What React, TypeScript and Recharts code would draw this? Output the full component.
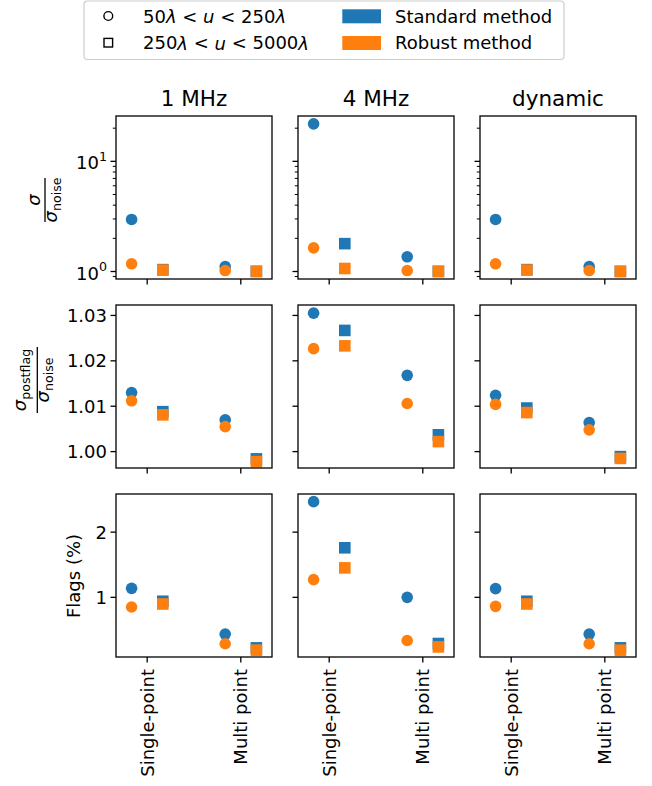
import React from "react";
import { ScatterChart, Scatter, XAxis, YAxis } from "recharts";

// =============================================================================
// Flagging comparison — 3x3 grid of small scatter panels.
// =============================================================================

const columns = ["1 MHz", "4 MHz", "dynamic"];
const categories = ["Single-point", "Multi point"];
const categoryIndex = [0, 1];

// values per column, [Single-point, Multi point]
// row 1: sigma / sigma_noise (log axis)
const ratioStdShort = [[2.97, 1.11], [21.9, 1.36], [2.97, 1.11]];
const ratioRobShort = [[1.175, 1.02], [1.64, 1.02], [1.175, 1.02]];
const ratioStdLong = [[1.04, 1.003], [1.79, 1.003], [1.04, 1.003]];
const ratioRobLong = [[1.03, 1.0], [1.065, 1.0], [1.03, 1.0]];

// row 2: sigma_postflag / sigma_noise
const postStdShort = [[1.013, 1.007], [1.0305, 1.0168], [1.0124, 1.0064]];
const postRobShort = [[1.0112, 1.0055], [1.0227, 1.0106], [1.0104, 1.0048]];
const postStdLong = [[1.0088, 0.9984], [1.0267, 1.0037], [1.0096, 0.9989]];
const postRobLong = [[1.0081, 0.9978], [1.0233, 1.0022], [1.0086, 0.9985]];

// row 3: flags (%)
const flagsStdShort = [[1.138, 0.437], [2.468, 1.0], [1.134, 0.437]];
const flagsRobShort = [[0.852, 0.288], [1.272, 0.338], [0.862, 0.288]];
const flagsStdLong = [[0.94, 0.225], [1.76, 0.292], [0.94, 0.225]];
const flagsRobLong = [[0.898, 0.19], [1.452, 0.24], [0.898, 0.19]];

const ratioTicks = [0.9, 1, 2, 3, 4, 5, 6, 7, 8, 9, 10, 20];
const ratioMajor = [1, 10];
const postTicks = [1.0, 1.01, 1.02, 1.03];
const flagsTicks = [1, 2];

const BLUE = "#1f77b4";
const ORANGE = "#ff7f0e";
const FONT = "DejaVu Sans";

const COL_X = [116, 298, 480];
const ROW_Y = [116, 305, 494];
const PW = 156;
const PH = 163;
const X_DOMAIN = [-1 / 3, 4 / 3];
const OFFSET = 1 / 6;
const MAJOR = 5.5;
const MINOR = 3.2;

type RowDef = {
  std: number[][];
  rob: number[][];
  stdL: number[][];
  robL: number[][];
  domain: number[];
  ticks: number[];
  major: number[];
  scale: "log" | "linear";
  fmt: (v: number) => React.ReactNode;
};

const rows: RowDef[] = [
  {
    std: ratioStdShort, rob: ratioRobShort, stdL: ratioStdLong, robL: ratioRobLong,
    domain: [0.855, 25.8], ticks: ratioTicks, major: ratioMajor, scale: "log",
    fmt: (v) => (
      <>
        10<tspan dy={-7} fontSize={12.6}>{Math.round(Math.log10(v))}</tspan>
      </>
    ),
  },
  {
    std: postStdShort, rob: postRobShort, stdL: postStdLong, robL: postRobLong,
    domain: [0.99639, 1.0323], ticks: postTicks, major: postTicks, scale: "linear",
    fmt: (v) => v.toFixed(2),
  },
  {
    std: flagsStdShort, rob: flagsRobShort, stdL: flagsStdLong, robL: flagsRobLong,
    domain: [0.085, 2.585], ticks: flagsTicks, major: flagsTicks, scale: "linear",
    fmt: (v) => String(v),
  },
];

const points = (vals: number[], off: number) =>
  categoryIndex.map((c, i) => ({ x: c + off, y: vals[i] }));

const dot = (color: string) => (p: any) => <circle cx={p.cx} cy={p.cy} r={5.8} fill={color} />;
const square = (color: string) => (p: any) => (
  <rect x={p.cx - 5.8} y={p.cy - 5.8} width={11.6} height={11.6} fill={color} />
);

function Panel({ row, col }: { row: number; col: number }) {
  const r = rows[row];
  const mL = col === 0 ? 90 : 12;
  const mB = row === 2 ? 140 : 12;
  const mT = 8;
  const mR = 8;

  const xTick = (p: any) => (
    <g>
      <line x1={p.x} x2={p.x} y1={p.y} y2={p.y + MAJOR} stroke="#000" strokeWidth={1.3} />
      {row === 2 && (
        <text
          x={p.x}
          y={p.y + 12}
          transform={`rotate(-90, ${p.x}, ${p.y + 12})`}
          textAnchor="end"
          dominantBaseline="central"
          fontFamily={FONT}
          fontSize={18}
          fill="#000"
        >
          {categories[p.payload.value]}
        </text>
      )}
    </g>
  );

  const yTick = (p: any) => {
    const v = p.payload.value;
    const isMajor = r.major.includes(v);
    const len = isMajor ? MAJOR : MINOR;
    return (
      <g>
        <line x1={p.x - len} x2={p.x} y1={p.y} y2={p.y} stroke="#000" strokeWidth={isMajor ? 1.3 : 1} />
        {col === 0 && isMajor && (
          <text
            x={p.x - 9}
            y={p.y + (r.scale === "log" ? 1.5 : 0)}
            textAnchor="end"
            dominantBaseline="central"
            fontFamily={FONT}
            fontSize={18}
            fill="#000"
          >
            {r.fmt(v)}
          </text>
        )}
      </g>
    );
  };

  // axes get 1px so they render; margins shrink by the same amount
  return (
    <div style={{ position: "absolute", left: COL_X[col] - mL, top: ROW_Y[row] - mT }}>
      <ScatterChart
        width={PW + mL + mR}
        height={PH + mT + mB}
        margin={{ top: mT, right: mR, bottom: mB - 1, left: mL - 1 }}
      >
        <XAxis
          type="number"
          dataKey="x"
          domain={X_DOMAIN}
          ticks={categoryIndex}
          allowDataOverflow
          interval={0}
          height={1}
          tickSize={0}
          tickMargin={0}
          axisLine={false}
          tickLine={false}
          tick={xTick}
        />
        <YAxis
          type="number"
          dataKey="y"
          scale={r.scale}
          domain={r.domain}
          ticks={r.ticks}
          allowDataOverflow
          interval={0}
          width={1}
          tickSize={0}
          tickMargin={0}
          axisLine={false}
          tickLine={false}
          tick={yTick}
        />
        <Scatter data={points(r.std[col], -OFFSET)} shape={dot(BLUE)} isAnimationActive={false} />
        <Scatter data={points(r.stdL[col], OFFSET)} shape={square(BLUE)} isAnimationActive={false} />
        <Scatter data={points(r.rob[col], -OFFSET)} shape={dot(ORANGE)} isAnimationActive={false} />
        <Scatter data={points(r.robL[col], OFFSET)} shape={square(ORANGE)} isAnimationActive={false} />
      </ScatterChart>
    </div>
  );
}

function Fraction({ cx, cy, num, numSub, barLen, numBase, denBase }: any) {
  return (
    <g transform={`translate(${cx}, ${cy}) rotate(-90)`} fontFamily={FONT} fill="#000">
      <text x={0} y={numBase} textAnchor="middle" fontSize={18}>
        <tspan fontStyle="italic">{num}</tspan>
        {numSub && (
          <tspan fontSize={12.6} dy={3.8}>
            {numSub}
          </tspan>
        )}
      </text>
      <line x1={-barLen / 2} x2={barLen / 2} y1={0} y2={0} stroke="#000" strokeWidth={1.3} />
      <text x={0} y={denBase} textAnchor="middle" fontSize={18}>
        <tspan fontStyle="italic">σ</tspan>
        <tspan fontSize={12.6} dy={3.8}>
          noise
        </tspan>
      </text>
    </g>
  );
}

function Overlay() {
  return (
    <svg
      width={652}
      height={786}
      style={{ position: "absolute", left: 0, top: 0, pointerEvents: "none" }}
    >
      {ROW_Y.map((y) =>
        COL_X.map((x) => (
          <rect key={`${x}-${y}`} x={x} y={y} width={PW} height={PH} fill="none" stroke="#000" strokeWidth={1.3} />
        ))
      )}
      {columns.map((c, i) => (
        <text key={c} x={COL_X[i] + PW / 2} y={106} textAnchor="middle" fontFamily={FONT} fontSize={21.5} fill="#000">
          {c}
        </text>
      ))}

      <Fraction cx={45} cy={200} num="σ" barLen={44} numBase={-5.5} denBase={11.7} />
      <Fraction cx={37.3} cy={380} num="σ" numSub="postflag" barLen={66} numBase={-11.3} denBase={12} />
      <text
        x={73}
        y={576}
        transform="rotate(-90, 73, 576)"
        textAnchor="middle"
        dominantBaseline="central"
        fontFamily={FONT}
        fontSize={18}
        fill="#000"
      >
        Flags (%)
      </text>

      {/* legend */}
      <g fontFamily={FONT} fontSize={18} fill="#000">
        <rect x={84} y={1} width={480} height={58.5} rx={3.5} fill="#fff" stroke="#cccccc" strokeWidth={1.2} />
        <circle cx={108.3} cy={16} r={4.4} fill="none" stroke="#000" strokeWidth={1.4} />
        <rect x={104} y={38.4} width={8.6} height={8.6} fill="none" stroke="#000" strokeWidth={1.4} />
        <text x={143} y={16} dominantBaseline="central">
          50<tspan fontStyle="italic">λ</tspan>
          {" < "}
          <tspan fontStyle="italic">u</tspan>
          {" < 250"}
          <tspan fontStyle="italic">λ</tspan>
        </text>
        <text x={143} y={42.7} dominantBaseline="central">
          250<tspan fontStyle="italic">λ</tspan>
          {" < "}
          <tspan fontStyle="italic">u</tspan>
          {" < 5000"}
          <tspan fontStyle="italic">λ</tspan>
        </text>
        <rect x={342.3} y={9.3} width={38.7} height={14} fill={BLUE} />
        <rect x={342.3} y={36} width={38.7} height={14} fill={ORANGE} />
        <text x={395} y={16} dominantBaseline="central">
          Standard method
        </text>
        <text x={395} y={42.7} dominantBaseline="central">
          Robust method
        </text>
      </g>
    </svg>
  );
}

export default function App() {
  return (
    <div style={{ position: "absolute", left: 0, top: 0, width: 652, height: 786, background: "#fff" }}>
      {rows.map((_, ri) => columns.map((_, ci) => <Panel key={`${ri}-${ci}`} row={ri} col={ci} />))}
      <Overlay />
    </div>
  );
}
